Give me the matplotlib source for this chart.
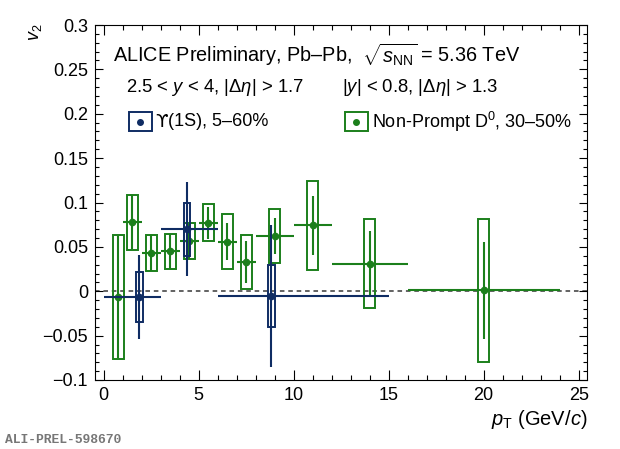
import numpy as np
import matplotlib
matplotlib.use('Agg')
import matplotlib.pyplot as plt
from matplotlib.patches import Rectangle
from matplotlib.ticker import MultipleLocator

plt.rcParams['font.family'] = ['Liberation Sans', 'DejaVu Sans']
plt.rcParams['mathtext.fontset'] = 'custom'
plt.rcParams['mathtext.rm'] = 'Liberation Sans'
plt.rcParams['mathtext.it'] = 'Liberation Sans:italic'
plt.rcParams['mathtext.bf'] = 'Liberation Sans:bold'

# Non-prompt D0, 30-50%  ~~~~~~~~~~~~~~~~~~~~~~~~~~~~~~~~~~~~~~~~~~~~~~~~~~~~~~~
d_pt = np.array([0.77, 1.5, 2.5, 3.5, 4.5, 5.5, 6.5, 7.5, 9.0, 11.0, 14.0, 20.0])
d_lo = np.array([0.5, 1, 2, 3, 4, 5, 6, 7, 8, 10, 12, 16])
d_hi = np.array([1, 2, 3, 4, 5, 6, 7, 8, 10, 12, 16, 24])
d_v2 = np.array([-0.0064, 0.078, 0.043, 0.045, 0.0567, 0.0774, 0.056, 0.033, 0.0623, 0.0744, 0.031, 0.001])
d_stat = np.array([0.069, 0.030, 0.020, 0.020, 0.020, 0.018, 0.0205, 0.024, 0.0207, 0.033, 0.0366, 0.055])
d_sys = np.array([0.070, 0.031, 0.020, 0.020, 0.0205, 0.0205, 0.0305, 0.030, 0.030, 0.050, 0.050, 0.0805])

# Upsilon(1S), 5-60% ~~~~~~~~~~~~~~~~~~~~~~~~~~~~~~~~~~~~~~~~~~~~~~~~~~~~~~~~~~~
u_pt = np.array([1.88, 4.38, 8.82])
u_lo = np.array([0, 3, 6])
u_hi = np.array([3, 6, 15])
u_v2 = np.array([-0.0064, 0.0699, -0.0053])
u_stat = np.array([0.047, 0.053, 0.080])
u_sys = np.array([0.028, 0.030, 0.035])

green = '#1b7f1b'
navy = '#0f2c63'

fig = plt.figure(figsize=(6.2, 4.49), dpi=100)
ax = fig.add_axes([95/620, 1-380/449, 492/620, 355/449])

ax.axhline(0, color='#383838', lw=1.1, ls=(0, (3, 2.5)), zorder=1)

# D0: sys boxes then stat bars
for x, v, s in zip(d_pt, d_v2, d_sys):
    ax.add_patch(Rectangle((x-0.3, v-s), 0.6, 2*s, fill=False, edgecolor=green, lw=1.4, zorder=2))
ax.errorbar(d_pt, d_v2, yerr=d_stat, xerr=[d_pt-d_lo, d_hi-d_pt], fmt='o', color=green,
            ms=4.5, lw=1.5, capsize=0, zorder=3)

# Upsilon
for x, v, s in zip(u_pt, u_v2, u_sys):
    ax.add_patch(Rectangle((x-0.17, v-s), 0.34, 2*s, fill=False, edgecolor=navy, lw=1.4, zorder=4))
ax.errorbar(u_pt, u_v2, yerr=u_stat, xerr=[u_pt-u_lo, u_hi-u_pt], fmt='o', color=navy,
            ms=4.5, lw=1.5, capsize=0, zorder=5)

ax.set_xlim(-0.46, 25.44)
ax.set_ylim(-0.1, 0.3)
ax.xaxis.set_major_locator(MultipleLocator(5))
ax.xaxis.set_minor_locator(MultipleLocator(1))
ax.yaxis.set_major_locator(MultipleLocator(0.05))
ax.yaxis.set_minor_locator(MultipleLocator(0.01))
ax.tick_params(which='both', direction='in', top=True, right=True, labelsize=13, width=0.8)
ax.tick_params(axis='x', which='major', length=7, pad=5)
ax.tick_params(axis='x', which='minor', length=3.5)
ax.tick_params(axis='y', which='major', length=6, pad=5)
ax.tick_params(axis='y', which='minor', length=3)
ax.set_yticks([-0.1, -0.05, 0, 0.05, 0.1, 0.15, 0.2, 0.25, 0.3])
ax.set_yticklabels(['\u22120.1', '\u22120.05', '0', '0.05', '0.1', '0.15', '0.2', '0.25', '0.3'])
for sp in ax.spines.values():
    sp.set_linewidth(0.8)

ax.set_xlabel(r'$p_{\rm T}$ (GeV/$c$)', loc='right', fontsize=14.5, labelpad=3)
fig.text(36/620, 1-32/449, r'$v_2$', rotation=90, fontsize=13, ha='center', va='center')

ax.text(0.037, 0.918, 'ALICE Preliminary, Pb\u2013Pb,  ' + r'$\sqrt{s_{\rm NN}}$ = 5.36 TeV',
        transform=ax.transAxes, fontsize=14.3, va='center')
ax.text(0.063, 0.825, r'2.5 < $y$ < 4, |$\Delta\eta$| > 1.7', transform=ax.transAxes,
        fontsize=13.3, va='center')
ax.text(0.502, 0.825, r'|$y$| < 0.8, |$\Delta\eta$| > 1.3', transform=ax.transAxes,
        fontsize=13.3, va='center')

# legend
for x0, col in [(0.069, navy), (0.508, green)]:
    ax.add_patch(Rectangle((x0, 0.701), 0.046, 0.054, transform=ax.transAxes, fill=False,
                           edgecolor=col, lw=1.4))
    ax.plot([x0+0.023], [0.728], 'o', color=col, ms=4, transform=ax.transAxes)
ups = ax.text(0.122, 0.728, '\u03d2', transform=ax.transAxes, fontsize=13, va='center',
              family='DejaVu Sans')
ax.annotate('(1S), 5\u201360%', xy=(1, 0.5), xycoords=ups, fontsize=13, va='center')
ax.text(0.563, 0.728, r'Non-Prompt D$^0$, 30' + '\u201350%', transform=ax.transAxes,
        fontsize=13, va='center')

fig.text(5/620, 1-440/449, 'ALI-PREL-598670', family='Liberation Mono', weight='bold',
         fontsize=9.4, color='#777777', va='center')

fig.savefig('out.png', dpi=100)
